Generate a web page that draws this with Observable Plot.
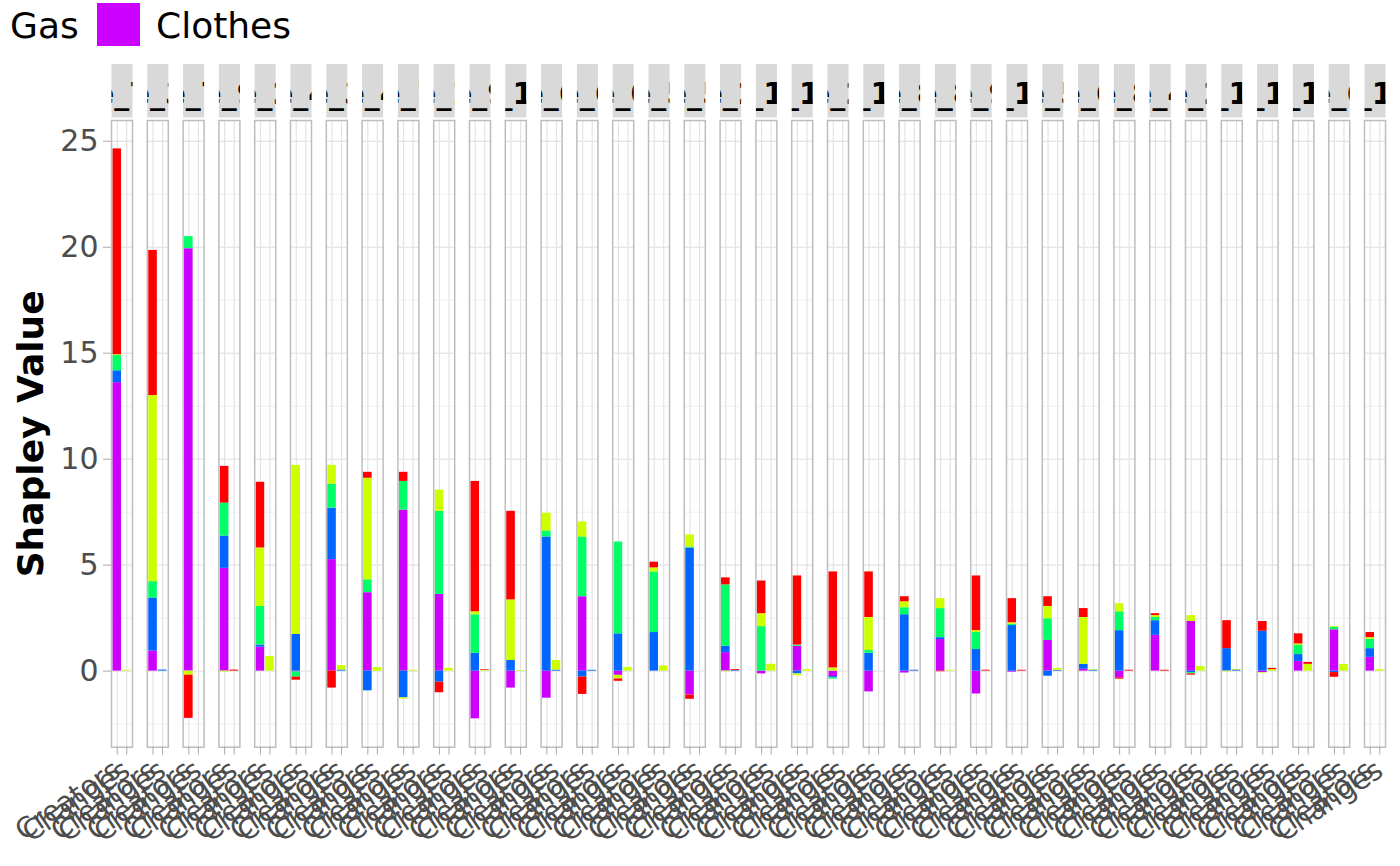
<!DOCTYPE html>
<html><head><meta charset="utf-8">
<script src="https://cdn.jsdelivr.net/npm/d3@7"></script>
<script src="https://cdn.jsdelivr.net/npm/@observablehq/plot@0.6"></script>
<style>
body{margin:0;background:#fff;font-family:"DejaVu Sans";}
svg{display:block;}
g[aria-label="y-axis tick"] path, g[aria-label="x-axis tick"] path {stroke:#AAAAAA;}
</style>
</head><body>
<div id="legend"></div>
<div id="chart"></div>
<script>
// ---- data ----
const types = ["Creators", "Changes"];
const categories = ["Food", "Rent", "Travel", "Gas", "Clothes"];   // stacking: first = top
const colors = ["#FF0000", "#CCFF00", "#00FF66", "#0066FF", "#CC00FF"];
const stripLabels = ["e_7","e_3","e_7","e_9","e_2","e_4","e_3","e_4","e_1","e_1","e_9","e_14",
  "e_6","e_6","e_0","e_5","e_5","e_2","e_12","e_11","e_2","e_13","e_8","e_8",
  "e_9","e_10","e_5","e_6","e_8","e_4","e_2","e_16","e_17","e_15","e_6","e_18"];
const yTicks = [0, 5, 10, 15, 20, 25];
const yMinorTicks = [-2.5, 2.5, 7.5, 12.5, 17.5, 22.5];

const creatorsFood = [9.71,6.85,-2.04,1.73,3.10,-0.15,-0.80,0.28,0.43,-0.50,6.15,4.18,0,-0.82,-0.11,0.27,-0.20,0.33,1.54,3.26,4.53,2.15,0.24,-0.03,2.58,1.14,0.46,0.42,-0.06,0.09,-0.06,1.32,0.46,0.48,-0.22,0.24];
const creatorsRent = [0.04,8.78,-0.19,-0.04,2.76,7.98,0.89,4.79,-0.06,1.00,0.14,2.86,0.84,0.71,-0.17,0.19,0.58,-0.03,0.61,-0.09,0.15,1.56,0.28,0.47,0.09,0.07,0.58,2.21,0.38,0.09,0.28,-0.03,-0.03,0.07,0.04,0.08];
const creatorsTravel = [0.72,0.77,0.57,1.56,1.82,-0.24,1.13,0.61,1.35,3.92,1.82,0,0.28,2.82,4.33,2.86,0.04,2.90,2.10,0.06,-0.06,0.13,0.33,1.37,0.80,0.06,1.02,0,0.89,0.15,-0.06,0,0,0.43,0.11,0.44];
const creatorsGas = [0.56,2.50,0,1.52,0.10,1.73,2.43,-0.93,-1.26,-0.52,0.84,0.50,6.33,-0.28,1.76,1.82,5.81,0.30,0,-0.13,-0.06,0.84,2.66,0.09,1.02,2.15,-0.24,0.23,1.91,0.69,-0.07,1.06,1.88,0.32,-0.07,0.41];
const creatorsClothes = [13.61,0.95,19.93,4.85,1.13,-0.04,5.26,3.70,7.60,3.62,-2.25,-0.80,-1.28,3.51,-0.20,0,-1.13,0.87,-0.13,1.17,-0.26,-0.98,-0.09,1.49,-1.08,-0.05,1.45,0.09,-0.32,1.69,2.34,0,-0.07,0.46,1.95,0.65];

const changesFood = [0,0,0,0.05,0,0,0,0,0,0,0.03,0,0,0,0,0,0,0.04,0,0,0,0,0,0,0.04,0.04,0,0,0.04,0.04,0,0,0.06,0.09,0,0];
const changesRent = [0.04,0,0,0,0.69,0,0.21,0.17,0.04,0.13,0.03,0.03,0.45,0,0.17,0.24,0,0,0.32,0.07,0,0,0,0.04,0,0,0.09,0.03,0,0,0.22,0.03,0.07,0.32,0.32,0.07];
const changesTravel = [0,0,0,0,0,0,0,0,0,0,0,0,0,0,0,0,0,0,0,0,0,0,0,0,0,0,0,0,0,0,0,0,0,0,0,0];
const changesGas = [0,0.05,0,0,0,0,0.05,0,0,0,0,0,0.05,0.04,0,0,0,0.03,0,0,0,0,0.04,0,0,0,0.04,0.04,0,0,0,0.05,0,0,0,0];
const changesClothes = [0,0,0,0,0,0,0,0,0,0,0,0,0,0,0,0,0,0,0,0,0,0,0,0,0,0,0,0,0,0,0,0,0,0,0,0];

// ---- table for Plot ----
const byType = {
  Creators: {Food: creatorsFood, Rent: creatorsRent, Travel: creatorsTravel, Gas: creatorsGas, Clothes: creatorsClothes},
  Changes: {Food: changesFood, Rent: changesRent, Travel: changesTravel, Gas: changesGas, Clothes: changesClothes}
};
const facetIds = stripLabels.map((_, i) => i + 1);
const stackOrder = categories.slice().reverse(); // Clothes nearest zero
const rows = [];
facetIds.forEach((f, i) => {
  types.forEach(t => {
    stackOrder.forEach(c => rows.push({facet: f, type: t, cat: c, value: byType[t][c][i]}));
  });
});

// ---- legend (visible part) ----
const leg = d3.select("#legend").append("svg").attr("width", 1400).attr("height", 56);
leg.append("text").attr("x", 10).attr("y", 37.5).attr("font-size", 36).attr("font-family", "DejaVu Sans").text("Gas");
leg.append("rect").attr("x", 97).attr("y", 3).attr("width", 43).attr("height", 43).attr("fill", colors[4]);
leg.append("text").attr("x", 156).attr("y", 37.5).attr("font-size", 36).attr("font-family", "DejaVu Sans").text(categories[4]);

// ---- chart ----
const chart = Plot.plot({
  width: 1400, height: 810,
  marginTop: 64, marginBottom: 119.3, marginLeft: 111, marginRight: 15,
  style: {fontFamily: "DejaVu Sans", background: "#fff", overflow: "visible"},
  fx: {domain: facetIds, paddingInner: 0.4134, paddingOuter: 0, round: false, axis: null, label: null},
  x: {domain: types, paddingInner: 0.1, paddingOuter: 0.15, round: false, label: null},
  y: {domain: [-3.59, 25.98], label: null},
  color: {domain: categories, range: colors},
  marks: [
    Plot.gridY(yMinorTicks, {stroke: "#F0F0F0", strokeOpacity: 1, strokeWidth: 1}),
    Plot.gridY(yTicks, {stroke: "#E3E3E3", strokeOpacity: 1, strokeWidth: 1.2}),
    Plot.gridX(types, {stroke: "#E3E3E3", strokeOpacity: 1, strokeWidth: 1.2}),
    Plot.barY(rows, {fx: "facet", x: "type", y: "value", fill: "cat"}),
    Plot.frame({stroke: "#BDBDBD", strokeWidth: 1.5}),
    Plot.axisY(yTicks, {fontSize: 30, color: "#4D4D4D", tickSize: 8, tickPadding: 5, label: null}),
    Plot.axisX({fontSize: 28, color: "#4D4D4D", tickRotate: -34, tickSize: 8, tickPadding: 12, label: null})
  ]
});
document.getElementById("chart").appendChild(chart);

// ---- facet strips & y title ----
const svg = d3.select(chart);
const sb = chart.getBoundingClientRect();
const frames = Array.from(chart.querySelectorAll('g[aria-label="frame"] rect'))
  .map(r => r.getBoundingClientRect())
  .sort((a, b) => a.left - b.left);
const strips = svg.append("g");
const defs = svg.append("defs");
frames.forEach((b, i) => {
  const x = b.left - sb.left, w = b.width;
  const top = b.top - sb.top;
  defs.append("clipPath").attr("id", "strip" + i)
    .append("rect").attr("x", x).attr("y", top - 56.5).attr("width", w).attr("height", 53.5);
  strips.append("rect").attr("x", x).attr("y", top - 56.5).attr("width", w).attr("height", 53.5).attr("fill", "#D9D9D9");
  strips.append("text").attr("clip-path", `url(#strip${i})`)
    .attr("x", x + w / 2).attr("y", top - 17).attr("text-anchor", "middle")
    .attr("font-size", 30).attr("font-weight", "bold").attr("font-family", "DejaVu Sans").attr("fill", "#000")
    .text(stripLabels[i]);
});
const plotTop = frames[0].top - sb.top, plotBottom = frames[0].bottom - sb.top;
svg.append("text")
  .attr("transform", `translate(30,${(plotTop + plotBottom) / 2}) rotate(-90)`)
  .attr("text-anchor", "middle").attr("dominant-baseline", "central")
  .attr("font-size", 36).attr("font-weight", "bold").attr("font-family", "DejaVu Sans").attr("fill", "#000")
  .text("Shapley Value");
</script>
</body></html>
